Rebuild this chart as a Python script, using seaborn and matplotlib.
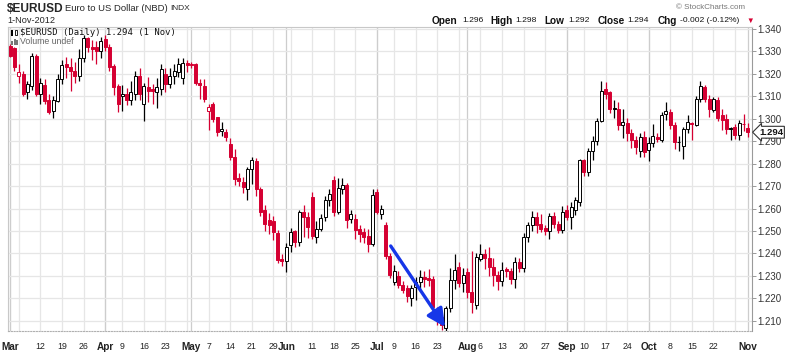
"""EURUSD daily candlesticks, Mar-Nov 2012 (StockCharts look)"""

import numpy as np
import pandas as pd
import seaborn as sns
import matplotlib.pyplot as plt
from matplotlib.patches import Rectangle

sns.set_theme(style="white")
plt.rcParams["font.family"] = ["Liberation Sans", "DejaVu Sans"]

###############################################################################
# Data

holidays = ["2012-04-06", "2012-05-28", "2012-07-04", "2012-09-03"]
dates = pd.bdate_range("2012-03-01", "2012-11-01").drop(pd.to_datetime(holidays))

opens = [
    1.3325, 1.3315, 1.3190, 1.3200, 1.3118, 1.3147, 1.3280, 1.3110, 1.3150, 1.3085,
    1.3033, 1.3080, 1.3177, 1.3244, 1.3229, 1.3214, 1.3190, 1.3273, 1.3362, 1.3320,
    1.3318, 1.3303, 1.3355, 1.3320, 1.3236, 1.3148, 1.3100, 1.3110, 1.3085, 1.3112,
    1.3192, 1.3066, 1.3140, 1.3133, 1.3118, 1.3133, 1.3200, 1.3155, 1.3190, 1.3210,
    1.3180, 1.3248, 1.3245, 1.3243, 1.3158, 1.3147, 1.3033, 1.3066, 1.3007, 1.2945,
    1.2940, 1.2888, 1.2829, 1.2737, 1.2718, 1.2688, 1.2777, 1.2813, 1.2688, 1.2592,
    1.2547, 1.2545, 1.2491, 1.2373, 1.2367, 1.2437, 1.2500, 1.2451, 1.2584, 1.2562,
    1.2651, 1.2473, 1.2507, 1.2560, 1.2636, 1.2727, 1.2584, 1.2688, 1.2705, 1.2553,
    1.2555, 1.2510, 1.2496, 1.2476, 1.2441, 1.2673, 1.2577, 1.2525, 1.2388, 1.2273,
    1.2300, 1.2260, 1.2244, 1.2200, 1.2251, 1.2273, 1.2296, 1.2290, 1.2284, 1.2147,
    1.2118, 1.2066, 1.2155, 1.2281, 1.2340, 1.2266, 1.2318, 1.2229, 1.2170, 1.2375,
    1.2397, 1.2380, 1.2340, 1.2304, 1.2275, 1.2330, 1.2322, 1.2288, 1.2362, 1.2333,
    1.2473, 1.2525, 1.2562, 1.2530, 1.2512, 1.2500, 1.2565, 1.2533, 1.2503, 1.2592,
    1.2562, 1.2595, 1.2630, 1.2814, 1.2762, 1.2858, 1.2903, 1.2992, 1.3133, 1.3118,
    1.3048, 1.3044, 1.2970, 1.2979, 1.2938, 1.2905, 1.2857, 1.2918, 1.2860, 1.2893,
    1.2919, 1.2905, 1.3022, 1.3032, 1.2970, 1.2895, 1.2880, 1.2955, 1.2980, 1.2972,
    1.3090, 1.3142, 1.3090, 1.3040, 1.3085, 1.3018, 1.2998, 1.2960, 1.2965, 1.2926,
    1.2975, 1.2960,
]
highs = [
    1.3335, 1.3320, 1.3244, 1.3215, 1.3170, 1.3295, 1.3290, 1.3180, 1.3175, 1.3110,
    1.3100, 1.3200, 1.3260, 1.3275, 1.3270, 1.3255, 1.3310, 1.3375, 1.3365, 1.3350,
    1.3345, 1.3365, 1.3375, 1.3335, 1.3245, 1.3155, 1.3150, 1.3135, 1.3170, 1.3215,
    1.3225, 1.3158, 1.3185, 1.3155, 1.3180, 1.3245, 1.3225, 1.3225, 1.3245, 1.3270,
    1.3270, 1.3260, 1.3255, 1.3250, 1.3178, 1.3178, 1.3066, 1.3075, 1.3010, 1.2985,
    1.2955, 1.2915, 1.2865, 1.2760, 1.2740, 1.2785, 1.2830, 1.2825, 1.2695, 1.2615,
    1.2580, 1.2565, 1.2505, 1.2395, 1.2445, 1.2515, 1.2505, 1.2595, 1.2615, 1.2585,
    1.2675, 1.2545, 1.2575, 1.2655, 1.2685, 1.2745, 1.2735, 1.2735, 1.2715, 1.2595,
    1.2575, 1.2525, 1.2515, 1.2510, 1.2685, 1.2685, 1.2615, 1.2540, 1.2400, 1.2347,
    1.2320, 1.2275, 1.2260, 1.2260, 1.2295, 1.2325, 1.2320, 1.2330, 1.2300, 1.2160,
    1.2125, 1.2165, 1.2333, 1.2395, 1.2360, 1.2335, 1.2335, 1.2410, 1.2400, 1.2440,
    1.2420, 1.2430, 1.2380, 1.2320, 1.2360, 1.2340, 1.2335, 1.2385, 1.2380, 1.2490,
    1.2540, 1.2590, 1.2585, 1.2575, 1.2525, 1.2580, 1.2585, 1.2545, 1.2610, 1.2615,
    1.2630, 1.2650, 1.2820, 1.2820, 1.2870, 1.2925, 1.3005, 1.3170, 1.3165, 1.3125,
    1.3085, 1.3075, 1.3045, 1.3005, 1.2955, 1.2925, 1.2935, 1.2945, 1.2920, 1.2975,
    1.2935, 1.3030, 1.3075, 1.3045, 1.2985, 1.2925, 1.2965, 1.3015, 1.2985, 1.3100,
    1.3170, 1.3150, 1.3105, 1.3095, 1.3095, 1.3045, 1.3020, 1.2965, 1.2975, 1.2995,
    1.3020, 1.2980,
]
lows = [
    1.3275, 1.3215, 1.3158, 1.3100, 1.3090, 1.3130, 1.3100, 1.3065, 1.3065, 1.3020,
    1.3005, 1.3075, 1.3155, 1.3180, 1.3125, 1.3160, 1.3170, 1.3255, 1.3298, 1.3260,
    1.3245, 1.3270, 1.3300, 1.3215, 1.3105, 1.3030, 1.3035, 1.3060, 1.3060, 1.3085,
    1.3085, 1.2992, 1.3075, 1.3065, 1.3050, 1.3105, 1.3120, 1.3135, 1.3155, 1.3185,
    1.3155, 1.3210, 1.3225, 1.3150, 1.3090, 1.3075, 1.2950, 1.2985, 1.2925, 1.2925,
    1.2900, 1.2815, 1.2705, 1.2700, 1.2670, 1.2640, 1.2710, 1.2655, 1.2565, 1.2500,
    1.2485, 1.2460, 1.2355, 1.2345, 1.2315, 1.2405, 1.2430, 1.2435, 1.2475, 1.2470,
    1.2465, 1.2445, 1.2500, 1.2545, 1.2612, 1.2565, 1.2575, 1.2665, 1.2515, 1.2535,
    1.2465, 1.2450, 1.2445, 1.2405, 1.2435, 1.2575, 1.2555, 1.2375, 1.2290, 1.2260,
    1.2245, 1.2225, 1.2185, 1.2165, 1.2190, 1.2240, 1.2250, 1.2255, 1.2150, 1.2080,
    1.2060, 1.2055, 1.2140, 1.2240, 1.2250, 1.2230, 1.2200, 1.2133, 1.2150, 1.2365,
    1.2330, 1.2300, 1.2255, 1.2235, 1.2255, 1.2295, 1.2265, 1.2245, 1.2315, 1.2315,
    1.2450, 1.2500, 1.2490, 1.2495, 1.2480, 1.2465, 1.2515, 1.2490, 1.2490, 1.2550,
    1.2510, 1.2570, 1.2610, 1.2745, 1.2745, 1.2815, 1.2885, 1.2985, 1.3090, 1.3025,
    1.3005, 1.2950, 1.2915, 1.2900, 1.2870, 1.2845, 1.2830, 1.2830, 1.2810, 1.2875,
    1.2895, 1.2895, 1.2995, 1.2955, 1.2865, 1.2855, 1.2820, 1.2935, 1.2905, 1.2968,
    1.3075, 1.3075, 1.3010, 1.3030, 1.2990, 1.2950, 1.2930, 1.2905, 1.2910, 1.2905,
    1.2945, 1.2920,
]
closes = [
    1.3280, 1.3229, 1.3210, 1.3110, 1.3155, 1.3280, 1.3110, 1.3160, 1.3080, 1.3030,
    1.3084, 1.3177, 1.3240, 1.3229, 1.3214, 1.3190, 1.3273, 1.3362, 1.3320, 1.3310,
    1.3300, 1.3347, 1.3322, 1.3232, 1.3140, 1.3066, 1.3112, 1.3085, 1.3120, 1.3192,
    1.3110, 1.3147, 1.3125, 1.3122, 1.3140, 1.3222, 1.3155, 1.3190, 1.3214, 1.3244,
    1.3250, 1.3240, 1.3238, 1.3158, 1.3152, 1.3088, 1.3051, 1.2999, 1.2940, 1.2955,
    1.2918, 1.2829, 1.2733, 1.2722, 1.2696, 1.2777, 1.2815, 1.2688, 1.2584, 1.2533,
    1.2525, 1.2496, 1.2370, 1.2367, 1.2429, 1.2496, 1.2451, 1.2584, 1.2562, 1.2518,
    1.2477, 1.2507, 1.2559, 1.2637, 1.2665, 1.2584, 1.2693, 1.2703, 1.2547, 1.2574,
    1.2506, 1.2488, 1.2473, 1.2443, 1.2658, 1.2584, 1.2598, 1.2388, 1.2305, 1.2322,
    1.2258, 1.2238, 1.2210, 1.2244, 1.2273, 1.2296, 1.2288, 1.2281, 1.2162, 1.2118,
    1.2081, 1.2155, 1.2281, 1.2325, 1.2266, 1.2303, 1.2229, 1.2184, 1.2384, 1.2395,
    1.2380, 1.2340, 1.2304, 1.2275, 1.2327, 1.2322, 1.2288, 1.2362, 1.2333, 1.2473,
    1.2525, 1.2562, 1.2525, 1.2510, 1.2500, 1.2565, 1.2533, 1.2503, 1.2584, 1.2562,
    1.2607, 1.2636, 1.2815, 1.2762, 1.2858, 1.2903, 1.2992, 1.3125, 1.3110, 1.3044,
    1.3044, 1.2970, 1.2987, 1.2938, 1.2905, 1.2873, 1.2918, 1.2851, 1.2893, 1.2925,
    1.2912, 1.3018, 1.3036, 1.2970, 1.2896, 1.2898, 1.2955, 1.2985, 1.2975, 1.3090,
    1.3147, 1.3090, 1.3045, 1.3086, 1.3005, 1.2995, 1.2955, 1.2956, 1.2926, 1.2980,
    1.2978, 1.2940,
]

tick_dates = ["2012-03-01", "2012-03-12", "2012-03-19", "2012-03-26",
              "2012-04-02", "2012-04-09", "2012-04-16", "2012-04-23",
              "2012-05-01", "2012-05-07", "2012-05-14", "2012-05-21", "2012-05-29",
              "2012-06-01", "2012-06-11", "2012-06-18", "2012-06-25",
              "2012-07-02", "2012-07-09", "2012-07-16", "2012-07-23",
              "2012-08-01", "2012-08-06", "2012-08-13", "2012-08-20", "2012-08-27",
              "2012-09-04", "2012-09-10", "2012-09-17", "2012-09-24",
              "2012-10-01", "2012-10-08", "2012-10-15", "2012-10-22", "2012-11-01"]
tick_labels = ["Mar", "12", "19", "26", "Apr", "9", "16", "23",
               "May", "7", "14", "21", "29", "Jun", "11", "18", "25",
               "Jul", "9", "16", "23", "Aug", "6", "13", "20", "27",
               "Sep", "10", "17", "24", "Oct", "8", "15", "22", "Nov"]

price_ticks = [1.21, 1.22, 1.23, 1.24, 1.25, 1.26, 1.27, 1.28,
               1.29, 1.30, 1.31, 1.32, 1.33, 1.34]

# blue annotation arrow (trading-day index, price)
arrow_start = (88.2, 1.2433)
arrow_end = (100.8, 1.2072)

RED = "#d50032"

df = pd.DataFrame({"Date": dates, "Open": opens, "High": highs,
                   "Low": lows, "Close": closes})
df["x"] = np.arange(len(df))

# StockCharts colouring: red if close below previous close, hollow if close > open
prev_close = df["Close"].shift(1).fillna(df["Open"])
df["color"] = np.where(df["Close"] >= prev_close, "black", RED)
df["face"] = np.where(df["Close"] > df["Open"], "white", df["color"])
df["bottom"] = df[["Open", "Close"]].min(axis=1)
df["height"] = (df["Close"] - df["Open"]).abs().clip(lower=0.0003)

###############################################################################
# Figure

fig = plt.figure(figsize=(8, 3.54), dpi=100)
ax = fig.add_axes([8 / 800, 1 - 331 / 354, 744 / 800, 304 / 354])


def fx(px):
    return px / 800


def fy(py):
    return 1 - py / 354


# grid: every week start (light) and month start (a bit darker)
week_start = df.groupby(df["Date"].dt.isocalendar().week)["x"].min()
month_start = df.groupby(df["Date"].dt.month)["x"].min()
for v in week_start:
    ax.axvline(v, color="#e6e6e6", lw=0.9, zorder=0)
for v in month_start:
    ax.axvline(v, color="#cdcdcd", lw=0.9, zorder=0)
for p in price_ticks:
    ax.axhline(p, color="#e6e6e6", lw=0.9, zorder=0)

# candles
ax.vlines(df["x"], df["Low"], df["High"], colors=df["color"], lw=0.9, zorder=2)
ax.bar(df["x"], df["height"], bottom=df["bottom"], width=0.7,
       color=df["face"], edgecolor=df["color"], linewidth=0.7, zorder=3)

ax.annotate("", xy=arrow_end, xytext=arrow_start,
            arrowprops=dict(arrowstyle="-|>,head_length=0.9,head_width=0.45",
                            color="#1636e8", lw=2.4, shrinkA=0, shrinkB=0,
                            mutation_scale=12), zorder=5)

ax.set_xlim(-0.5, 171.95)
ax.set_ylim(1.2054, 1.3409)

# axes decoration
pos = df.set_index("Date").loc[pd.to_datetime(tick_dates), "x"].to_numpy()
ax.set_xticks(pos)
ax.set_xticklabels(tick_labels)
for lab in ax.get_xticklabels():
    if lab.get_text().isalpha():
        lab.set_fontweight("bold")
        lab.set_fontsize(7.2)
    else:
        lab.set_fontsize(6.3)
    lab.set_color("#222222")
ax.tick_params(axis="x", length=0, pad=8)

ax.yaxis.tick_right()
ax.set_yticks(price_ticks)
ax.set_yticklabels([f"{p:.3f}" for p in price_ticks], fontsize=7, color="#333333")
ax.tick_params(axis="y", length=3, width=0.7, color="#999999", pad=1, right=True)

sns.despine(ax=ax, top=False, right=False, left=False, bottom=False)
for side in ["left", "top"]:
    ax.spines[side].set_color("#c8c8c8")
    ax.spines[side].set_linewidth(0.8)
ax.spines["right"].set_color("#9a9a9a")
ax.spines["right"].set_linewidth(0.8)
ax.spines["bottom"].set_color("#b0b0b0")
ax.spines["bottom"].set_linestyle((0, (1, 1.5)))
ax.spines["bottom"].set_linewidth(0.8)

# last price marker
ax.annotate(f"{closes[-1]:.3f}", xy=(1, closes[-1]), xycoords=("axes fraction", "data"),
            xytext=(5, 0), textcoords="offset points", ha="left", va="center",
            fontsize=6.8, fontweight="bold", color="#111111",
            bbox=dict(boxstyle="larrow,pad=0.15", fc="white", ec="#333333", lw=0.8),
            annotation_clip=False, zorder=6)

# header
fig.text(fx(7), fy(8.5), "$EURUSD", fontsize=8.6, fontweight="bold", va="center")
fig.text(fx(65), fy(8.5), "Euro to US Dollar (NBD)", fontsize=6.8, va="center")
fig.text(fx(170), fy(8.5), "INDX", fontsize=6.0, va="center")
fig.text(fx(7), fy(20.5), "1-Nov-2012", fontsize=6.6, va="center")
fig.text(fx(745), fy(7.5), "\u00a9 StockCharts.com", fontsize=5.8, color="#777777",
         ha="right", va="center")

quote = [(432, "Open", True), (462, "1.296", False), (490, "High", True),
         (515, "1.298", False), (544, "Low", True), (568, "1.292", False),
         (598, "Close", True), (627, "1.294", False), (658, "Chg", True),
         (680, "-0.002 (-0.12%)", False)]
for px, s, bold in quote:
    fig.text(fx(px), fy(21), s, fontsize=7.2 if bold else 6.1,
             fontweight="bold" if bold else "normal", va="center", color="#111111")
fig.text(fx(746), fy(21), "\u25bc", fontsize=5.5, color=RED, va="center")

# in-plot legend
fig.text(fx(20), fy(32.5), "$EURUSD (Daily) 1.294 (1 Nov)", fontsize=6.4,
         family="DejaVu Sans Mono", va="center", color="#111111")
fig.text(fx(20), fy(41.5), "Volume undef", fontsize=6.3, va="center", color="#666666")

# small legend icons
fig.add_artist(Rectangle((fx(11), fy(36)), 2 / 800, 6 / 354, transform=fig.transFigure,
                         fc="black", ec="none"))
fig.add_artist(Rectangle((fx(15), fy(35)), 2 / 800, 5 / 354, transform=fig.transFigure,
                         fc="white", ec="black", lw=0.6))
for i, h in enumerate([4, 6, 5]):
    fig.add_artist(Rectangle((fx(11 + 2.5 * i), fy(45)), 2 / 800, h / 354,
                             transform=fig.transFigure, fc="#777777", ec="none"))

fig.savefig("out.png", dpi=100)
